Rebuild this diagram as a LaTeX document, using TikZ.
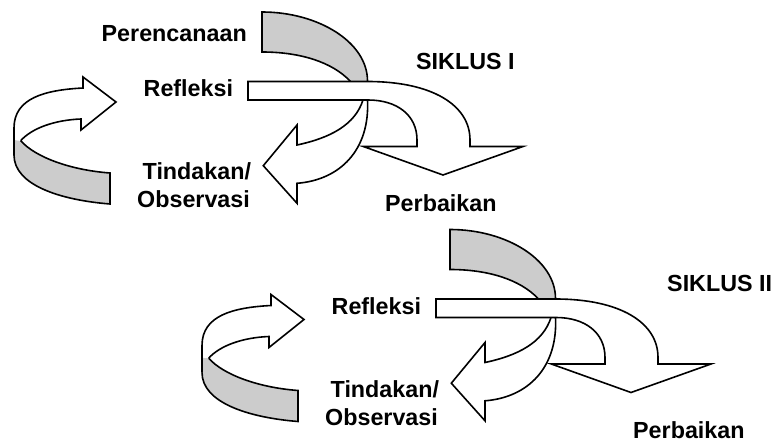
\documentclass[tikz,border=0pt]{standalone}
\usepackage{fontspec}
\setmainfont{Liberation Sans}
\definecolor{bandgrey}{RGB}{204,204,204}
\begin{document}
\begin{tikzpicture}[x=1pt,y=-1pt,
  edge/.style={draw=black,line width=1.6pt,line join=miter},
  lbl/.style={inner sep=0pt,anchor=base west,font=\fontsize{23.3}{28}\selectfont\bfseries}]
\useasboundingbox (0,0) rectangle (776,443);

\newcommand{\cyclepic}{%
  % left curved arrow: grey back band
  \fill[bandgrey] (20.7,140.7) .. controls (35,157) and (70,170) .. (110,173) -- (110,204)
     .. controls (60,200) and (14,185) .. (14,155) -- (14,140) -- cycle;
  \draw[edge] (20.7,140.7) .. controls (35,157) and (70,170) .. (110,173) -- (110,204)
     .. controls (60,200) and (14,185) .. (14,155);
  % left curved arrow: white front with head
  \fill[white] (14,140) -- (14,128) .. controls (14,98) and (45,90) .. (83,88) -- (83,77) -- (116,102)
     -- (81,130) -- (81,119) .. controls (55,120) and (32,128) .. (20.7,140.7) -- cycle;
  \draw[edge] (14,155) -- (14,128) .. controls (14,98) and (45,90) .. (83,88) -- (83,77) -- (116,102)
     -- (81,130) -- (81,119) .. controls (55,120) and (32,128) .. (20.7,140.7);
  % Perencanaan band (grey) going down to Tindakan
  \filldraw[edge,fill=bandgrey] (262,12) .. controls (318,12) and (367.5,42) .. (367.5,81)
     -- (367.5,92) -- (352,92) -- (350,81) .. controls (332,62) and (300,52) .. (262,52) -- cycle;
  % Tindakan arrow (white)
  \filldraw[edge,fill=white] (367.5,92) -- (367.5,100) .. controls (370,150) and (340,180) .. (297,183.3)
     -- (297,203.3) -- (263.3,165.7) -- (297,125) -- (297,145)
     .. controls (330,138) and (355,125) .. (363,100) -- (363,92) -- cycle;
  % Refleksi bar curving into Perbaikan arrow
  \filldraw[edge,fill=white] (248,81.5) -- (367.5,81.5) .. controls (432,81.5) and (470,105) .. (470,140)
     -- (470,146.5) -- (523,146.5) -- (443,175) -- (363.3,146.5) -- (417,146.5) -- (417,140)
     .. controls (417,115) and (397,100) .. (368,100) -- (248,100) -- cycle;
}

% Cycle I
\begin{scope}
  \cyclepic
\end{scope}
% Cycle II
\begin{scope}[shift={(188,217.5)}]
  \cyclepic
\end{scope}

% Labels cycle I
\node[lbl] (perencanaan) at (101.5,41.7) {Perencanaan};
\node[lbl] (refleksiA) at (143.5,96.7) {Refleksi};
\node[lbl] (tindakanA) at (142.5,180) {Tindakan/};
\node[lbl] (observasiA) at (137,208) {Observasi};
\node[lbl] (perbaikanA) at (385,211.7) {Perbaikan};
\node[lbl] (siklusA) at (416,70) {SIKLUS I};
% Labels cycle II
\node[lbl] (refleksiB) at (331.5,314.2) {Refleksi};
\node[lbl] (tindakanB) at (330.5,397.5) {Tindakan/};
\node[lbl] (observasiB) at (325,425.5) {Observasi};
\node[lbl] (perbaikanB) at (633,438.5) {Perbaikan};
\node[lbl] (siklusB) at (667,292) {SIKLUS II};
\end{tikzpicture}
\end{document}
